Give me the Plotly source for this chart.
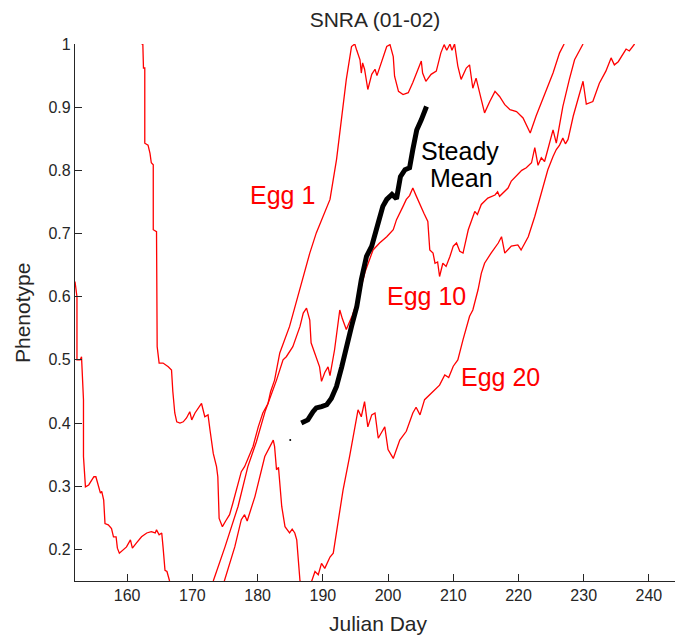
import plotly.graph_objects as go

# Phenotype trajectories (Julian day, phenotype) for three eggs and the steady mean
egg1_day = [162.2, 162.4, 162.5, 162.7, 162.7, 163.2, 163.5, 163.7, 164.0, 164.0, 164.5, 164.6, 164.9,
            165.5, 166.3, 166.8, 167.0, 167.1, 167.3, 167.6, 168.1, 168.6, 169.1, 169.6, 169.9, 170.4,
            171.1, 171.4, 171.9, 172.4, 172.7, 173.2, 173.7, 173.9, 174.1, 174.6, 175.1, 175.7, 176.2,
            177.0, 177.5, 178.0, 178.8, 179.3, 180.1, 180.8, 181.6, 182.0, 182.6, 183.4, 184.9, 186.0,
            187.0, 188.0, 189.0, 190.0, 191.1, 192.1, 192.9, 193.6, 194.4, 194.9, 195.2, 195.7, 195.9,
            196.1, 196.4, 196.7, 196.9, 197.5, 198.0, 198.3, 198.7, 199.2, 199.8, 200.3, 200.8, 201.0,
            201.6, 202.3, 203.1, 203.8, 204.6, 205.1, 205.3, 205.8, 206.6, 207.4, 208.1, 208.6, 209.0,
            209.5, 209.8, 210.2, 210.7, 211.2, 212.0, 212.5, 213.0, 213.5, 214.3, 214.8, 215.6, 216.4,
            217.1, 217.9, 218.7, 219.7, 220.7, 221.5, 221.8, 222.7, 223.5, 224.5, 225.3, 226.3, 227.0]
egg1_val = [1.0, 1.0, 0.962, 0.962, 0.843, 0.84, 0.827, 0.812, 0.809, 0.706, 0.703, 0.521, 0.495,
            0.495, 0.489, 0.484, 0.45, 0.437, 0.416, 0.402, 0.400, 0.402, 0.408, 0.418, 0.405, 0.416,
            0.426, 0.431, 0.410, 0.413, 0.389, 0.352, 0.331, 0.315, 0.249, 0.236, 0.245, 0.255, 0.273,
            0.305, 0.323, 0.331, 0.352, 0.363, 0.394, 0.416, 0.431, 0.45, 0.468, 0.511, 0.553, 0.595,
            0.632, 0.669, 0.701, 0.727, 0.754, 0.817, 0.880, 0.944, 0.996, 1.0, 0.99, 0.975, 0.954,
            0.97, 0.96, 0.941, 0.928, 0.952, 0.96, 0.950, 0.962, 0.975, 0.996, 0.999, 0.98, 0.949,
            0.925, 0.920, 0.923, 0.939, 0.962, 0.973, 0.954, 0.941, 0.952, 0.957, 0.986, 0.999, 0.99,
            1.0, 0.99, 1.0, 0.965, 0.944, 0.962, 0.967, 0.93, 0.946, 0.912, 0.891, 0.909, 0.925,
            0.917, 0.904, 0.896, 0.893, 0.883, 0.864, 0.859, 0.886, 0.907, 0.933, 0.954, 0.986, 1.0]

egg10_day = [152.0, 152.2, 152.3, 152.3, 152.8, 153.0, 153.2, 153.3, 153.3, 153.6, 154.1, 154.6, 154.9,
             155.2, 155.4, 155.6, 155.9, 156.1, 156.4, 156.6, 157.1, 157.6, 157.9, 158.3, 158.5, 158.8,
             159.4, 159.9, 160.5, 160.8, 161.4, 162.2, 163.0, 163.7, 164.3, 164.5, 164.9, 165.3, 165.5,
             165.8, 166.1, 166.5, 168.0, 170.5, 173.2, 175.0, 177.0, 178.5, 179.8, 181.2, 182.9, 183.9,
             184.4, 185.4, 186.5, 187.0, 187.5, 188.0, 188.2, 189.0, 189.5, 189.8, 190.3, 190.8, 191.1,
             191.8, 192.6, 193.0, 193.6, 194.5, 195.5, 196.5, 197.7, 198.7, 199.8, 200.8, 201.3, 202.3,
             202.8, 203.3, 203.8, 204.3, 204.9, 205.5, 206.1, 206.4, 206.9, 207.2, 207.6, 207.9, 208.4,
             208.9, 209.5, 210.0, 210.5, 211.0, 211.5, 212.3, 213.3, 213.7, 214.3, 215.3, 216.4, 216.8,
             217.1, 217.9, 218.4, 218.9, 219.9, 220.5, 221.2, 222.0, 222.5, 223.0, 223.5, 224.0, 224.5,
             225.3, 225.8, 226.8, 227.8, 228.6, 229.9]
egg10_val = [0.624, 0.600, 0.600, 0.500, 0.500, 0.505, 0.463, 0.437, 0.347, 0.299, 0.302, 0.310, 0.315,
             0.315, 0.307, 0.299, 0.289, 0.292, 0.278, 0.241, 0.239, 0.233, 0.220, 0.220, 0.202, 0.194,
             0.199, 0.204, 0.215, 0.202, 0.210, 0.220, 0.226, 0.228, 0.226, 0.231, 0.223, 0.226, 0.204,
             0.167, 0.165, 0.150, 0.11, 0.10, 0.150, 0.204, 0.268, 0.331, 0.37, 0.42, 0.468, 0.50,
             0.505, 0.521, 0.553, 0.574, 0.582, 0.563, 0.527, 0.505, 0.489, 0.466, 0.48, 0.489, 0.475,
             0.516, 0.579, 0.565, 0.548, 0.57, 0.60, 0.64, 0.674, 0.685, 0.695, 0.706, 0.722, 0.743,
             0.754, 0.760, 0.772, 0.760, 0.745, 0.732, 0.719, 0.674, 0.669, 0.653, 0.655, 0.632, 0.653,
             0.648, 0.664, 0.68, 0.685, 0.672, 0.669, 0.706, 0.735, 0.730, 0.746, 0.756, 0.761, 0.766,
             0.759, 0.767, 0.772, 0.783, 0.793, 0.80, 0.804, 0.812, 0.836, 0.808, 0.82, 0.814, 0.833,
             0.864, 0.843, 0.901, 0.944, 0.975, 1.0]

egg20_day = [173.6, 174.9, 176.5, 177.5, 178.0, 178.4, 179.6, 181.1, 182.4, 182.6, 182.9, 183.2, 183.7,
             184.2, 184.9, 185.3, 185.7, 186.0, 186.5, 187.4, 188.3, 188.8, 189.3, 189.8, 190.3, 191.1,
             191.6, 192.1, 193.1, 194.1, 194.9, 195.4, 195.9, 196.4, 196.9, 197.5, 198.0, 198.5, 199.0,
             199.5, 200.0, 200.8, 201.8, 202.8, 203.8, 204.3, 204.9, 205.6, 206.9, 207.9, 208.7, 209.3,
             210.0, 210.7, 211.5, 212.5, 213.0, 213.8, 214.3, 214.8, 215.8, 216.9, 217.4, 217.9, 218.9,
             219.9, 220.4, 221.5, 222.5, 223.8, 224.5, 225.3, 225.8, 226.3, 226.8, 227.2, 227.6, 228.4,
             229.9, 230.4, 230.9, 231.4, 232.4, 233.4, 234.2, 234.7, 235.3, 236.5, 237.0, 237.8]
egg20_val = [0.10, 0.150, 0.204, 0.247, 0.255, 0.245, 0.284, 0.347, 0.373, 0.363, 0.326, 0.33, 0.268,
             0.236, 0.226, 0.232, 0.226, 0.215, 0.150, 0.12, 0.150, 0.165, 0.16, 0.178, 0.17, 0.188,
             0.194, 0.226, 0.294, 0.347, 0.394, 0.421, 0.41, 0.434, 0.394, 0.413, 0.416, 0.376, 0.385,
             0.394, 0.358, 0.344, 0.373, 0.387, 0.416, 0.425, 0.413, 0.437, 0.45, 0.46, 0.476, 0.472,
             0.49, 0.50, 0.532, 0.569, 0.579, 0.611, 0.637, 0.653, 0.669, 0.685, 0.695, 0.669, 0.680,
             0.682, 0.674, 0.695, 0.727, 0.775, 0.801, 0.822, 0.833, 0.84, 0.851, 0.842, 0.849, 0.886,
             0.941, 0.905, 0.907, 0.909, 0.938, 0.957, 0.978, 0.967, 0.972, 0.992, 0.989, 1.0]

steady_day = [186.7, 187.7, 188.5, 189.0, 189.8, 190.6, 191.3, 192.1, 192.9, 193.6, 194.4, 195.2, 195.9,
              196.7, 197.5, 198.5, 199.2, 199.8, 200.6, 201.3, 201.9, 202.6, 203.3, 203.8, 204.4, 205.1,
              205.9]
steady_val = [0.400, 0.405, 0.418, 0.424, 0.426, 0.429, 0.439, 0.458, 0.489, 0.521, 0.553, 0.584, 0.627,
              0.664, 0.680, 0.717, 0.743, 0.754, 0.762, 0.755, 0.790, 0.801, 0.804, 0.833, 0.864, 0.880,
              0.901]
stray_day = [185.0]
stray_val = [0.373]

x_ticks = [160, 170, 180, 190, 200, 210, 220, 230, 240]
y_ticks = [0.2, 0.3, 0.4, 0.5, 0.6, 0.7, 0.8, 0.9, 1.0]
y_tick_text = ["0.2", "0.3", "0.4", "0.5", "0.6", "0.7", "0.8", "0.9", "1"]

RED = "#FF0000"
INK = "#262626"
FONT = "Liberation Sans, Arial, sans-serif"

W, H = 675, 640
ML, MR, MT, MB = 75, 0, 44, 59
PW, PH = W - ML - MR, H - MT - MB


def px_to_paper(px, py):
    """Convert a figure-pixel position to paper coordinates of the plot area."""
    return (px - ML) / PW, (H - MB - py) / PH


fig = go.Figure()
for d, v in [(egg1_day, egg1_val), (egg10_day, egg10_val), (egg20_day, egg20_val)]:
    fig.add_trace(go.Scatter(x=d, y=v, mode="lines", line=dict(color=RED, width=1.3),
                             showlegend=False, hoverinfo="skip"))
fig.add_trace(go.Scatter(x=steady_day, y=steady_val, mode="lines",
                         line=dict(color="black", width=5), showlegend=False))
fig.add_trace(go.Scatter(x=stray_day, y=stray_val, mode="markers",
                         marker=dict(color="black", size=2), showlegend=False))

axis_common = dict(showline=True, linecolor=INK, linewidth=1.3, ticks="inside", ticklen=7,
                   tickcolor=INK, tickwidth=1.3, showgrid=False, zeroline=False,
                   tickfont=dict(family=FONT, size=16, color=INK), mirror=False)
fig.update_xaxes(range=[152, 244], tickvals=x_ticks, **axis_common)
fig.update_yaxes(range=[0.15, 1.0], tickvals=y_ticks, ticktext=y_tick_text, **axis_common)

labels = [
    ("Egg 1", 282, 195, RED),
    ("Steady", 460, 151, "black"),
    ("Mean", 461, 178, "black"),
    ("Egg 10", 426, 296, RED),
    ("Egg 20", 500, 377, RED),
]
for txt, px, py, col in labels:
    ax, ay = px_to_paper(px, py)
    fig.add_annotation(text=txt, x=ax, y=ay, xref="paper", yref="paper",
                       showarrow=False, xanchor="center", yanchor="middle",
                       font=dict(family=FONT, size=25, color=col))

ax, ay = px_to_paper(378, 623)
fig.add_annotation(text="Julian Day", x=ax, y=ay, xref="paper", yref="paper",
                   showarrow=False, xanchor="center", yanchor="middle",
                   font=dict(family=FONT, size=21, color=INK))
ax, ay = px_to_paper(22, 313)
fig.add_annotation(text="Phenotype", x=ax, y=ay, xref="paper", yref="paper",
                   showarrow=False, xanchor="center", yanchor="middle", textangle=-90,
                   font=dict(family=FONT, size=21, color=INK))

fig.update_layout(
    width=W, height=H,
    margin=dict(l=ML, r=MR, t=MT, b=MB, autoexpand=False),
    plot_bgcolor="white", paper_bgcolor="white",
    title=dict(text="SNRA (01-02)", x=375 / W, xanchor="center", y=1 - 20 / H,
               yanchor="middle", yref="container", font=dict(family=FONT, size=21, color=INK)),
)

fig.write_html("out.html")
